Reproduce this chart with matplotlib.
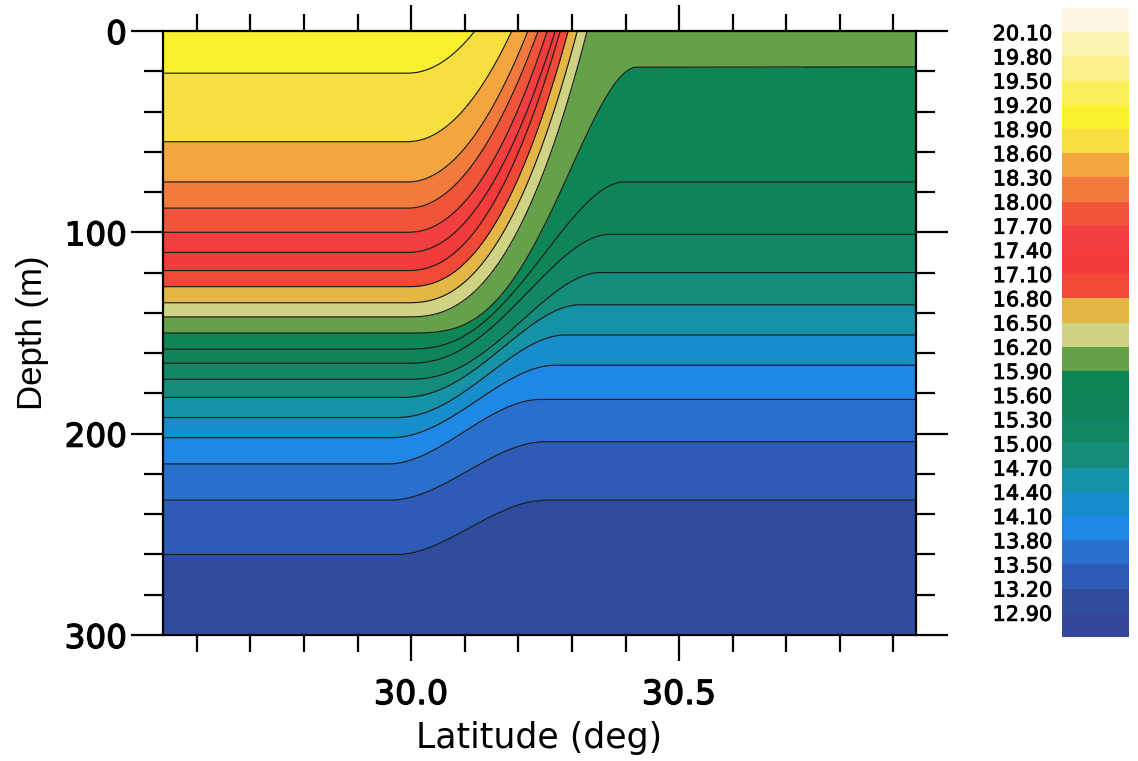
import numpy as np
import matplotlib.pyplot as plt
import matplotlib.patheffects as pe
from matplotlib.colors import ListedColormap, BoundaryNorm
from matplotlib.ticker import FixedLocator, FormatStrFormatter

plt.rcParams['font.family'] = ['DejaVu Sans']

# colour bands of the section, 0.3 deg steps, coldest first
levels = np.round(np.arange(12.6, 20.41, 0.3), 2)
band_colors = [
    '#34479a', '#2f4c9e', '#2d5bb6', '#2b6fcc', '#1f88e6', '#178dcc',
    '#1692a6', '#148c7c', '#118766', '#0e8458', '#0d8655', '#65a04a',
    '#cfd384', '#e4b646', '#f04a36', '#f33b3b', '#f23e3e', '#f0553a',
    '#f27a3c', '#f4a540', '#f6df3e', '#faf02e', '#fbef5a', '#faf08c',
    '#fbf3b4', '#fdf9e2',
]

# isotherms seen in the section (deg C), coldest first
iso_temp = [13.2, 13.5, 13.8, 14.1, 14.4, 14.7, 15.0, 15.3, 15.6, 15.9,
            16.2, 16.5, 16.8, 17.1, 17.4, 17.7, 18.0, 18.3, 18.6, 18.9]
# depth (m) of each isotherm south of the front
iso_depth_south = [260, 233, 215, 202, 192, 182, 173, 165, 158, 150,
                   142, 135, 127, 119, 110, 100, 88, 75, 55, 21]
# depth (m) north of the front, nan where the isotherm reaches the surface
iso_depth_north = [233, 204, 183, 166, 151, 136, 120, 101, 75, 18,
                   np.nan, np.nan, np.nan, np.nan, np.nan,
                   np.nan, np.nan, np.nan, np.nan, np.nan]
# latitude where the isotherm leaves its southern depth
iso_lat_start = [29.970, 29.961, 29.957, 29.961, 29.970, 29.979, 29.994, 29.994,
                 29.994, 29.994, 29.994, 29.994, 29.994, 29.994, 29.994,
                 29.994, 29.994, 29.994, 29.994, 29.994]
# latitude where it reaches its northern depth (or the surface)
iso_lat_end = [30.250, 30.250, 30.241, 30.269, 30.287, 30.315, 30.353, 30.371,
               30.399, 30.422, 30.328, 30.310, 30.293, 30.278, 30.269,
               30.254, 30.237, 30.218, 30.188, 30.119]
# bend shape exponent
iso_shape = [1.0, 1.0, 1.0, 1.05, 1.1, 1.15, 1.2, 1.2, 1.3, 1.6,
             2.45, 2.35, 2.3, 2.2, 2.1, 2.1, 2.0, 2.0, 2.0, 2.0]

lat = np.linspace(29.537, 30.942, 700)
depth = np.linspace(0, 300, 601)


def iso_profile(k):
    t = np.clip((lat - iso_lat_start[k]) / (iso_lat_end[k] - iso_lat_start[k]), 0, None)
    d0 = iso_depth_south[k]
    if np.isnan(iso_depth_north[k]):
        return d0 * (1 - t ** iso_shape[k])
    u = np.clip(t, 0, 1) ** iso_shape[k]
    s = u * u * (3 - 2 * u)
    return d0 + (iso_depth_north[k] - d0) * s


# depth of each isotherm per column, plus a deep and a shallow anchor
temps = np.array([12.95] + iso_temp + [19.1])
D = np.vstack([np.full(lat.size, 420.0)] +
              [iso_profile(k) for k in range(len(iso_temp))] +
              [np.full(lat.size, -30.0)])
D = np.minimum.accumulate(D, axis=0) - np.arange(len(temps))[:, None] * 1e-3

T = np.empty((depth.size, lat.size))
for j in range(lat.size):
    T[:, j] = np.interp(depth, D[::-1, j], temps[::-1])

fig = plt.figure(figsize=(11.38, 7.61), dpi=100)
ax = fig.add_axes([163 / 1138, 1 - 635 / 761, 753 / 1138, 604 / 761])

cmap = ListedColormap(band_colors)
norm = BoundaryNorm(levels, cmap.N)
cf = ax.contourf(lat, depth, T, levels=levels, cmap=cmap, norm=norm)
ax.contour(lat, depth, T, levels=levels, colors='#1c1c1c', linewidths=0.85)

ax.set_xlim(29.537, 30.942)
ax.set_ylim(300, 0)

ax.set_xticks([30.0, 30.5])
ax.xaxis.set_minor_locator(FixedLocator([29.6, 29.7, 29.8, 29.9, 30.1, 30.2, 30.3,
                                         30.4, 30.6, 30.7, 30.8, 30.9]))
ax.xaxis.set_major_formatter(FormatStrFormatter('%.1f'))
ax.set_yticks([0, 100, 200, 300])
ax.yaxis.set_minor_locator(FixedLocator(np.arange(20, 300, 20)))

for s in ax.spines.values():
    s.set_linewidth(1.6)
ax.tick_params(axis='both', which='both', direction='out', width=1.6,
               top=True, bottom=True, left=True, right=True)
ax.tick_params(axis='x', which='major', length=19, pad=12, labelsize=24)
ax.tick_params(axis='x', which='minor', length=12)
ax.tick_params(axis='y', which='major', length=23, pad=3, labelsize=23.5)
ax.tick_params(axis='y', which='minor', length=14)

heavy = [pe.withStroke(linewidth=0.9, foreground='black')]
for tk in ax.xaxis.get_major_ticks() + ax.yaxis.get_major_ticks():
    tk.label1.set_path_effects(heavy)

ax.set_xlabel('Latitude (deg)', fontsize=25)
ax.set_ylabel('Depth (m)', fontsize=25, family=['Liberation Sans', 'DejaVu Sans'])
ax.xaxis.set_label_coords(0.5, -0.143)
ax.yaxis.set_label_coords(-0.152, 0.5)

cax = fig.add_axes([1062 / 1138, 1 - 637 / 761, 67 / 1138, 629 / 761])
cb = fig.colorbar(cf, cax=cax, ticks=levels[1:-1])
cb.outline.set_visible(False)
cax.yaxis.set_ticks_position('left')
cax.tick_params(which='both', length=0, pad=7, labelsize=15)
cax.set_xticks([])
cax.yaxis.set_major_formatter(FormatStrFormatter('%.2f'))
for tk in cax.yaxis.get_major_ticks():
    tk.label1.set_path_effects([pe.withStroke(linewidth=0.6, foreground='black')])

fig.savefig('out.png', dpi=100)
